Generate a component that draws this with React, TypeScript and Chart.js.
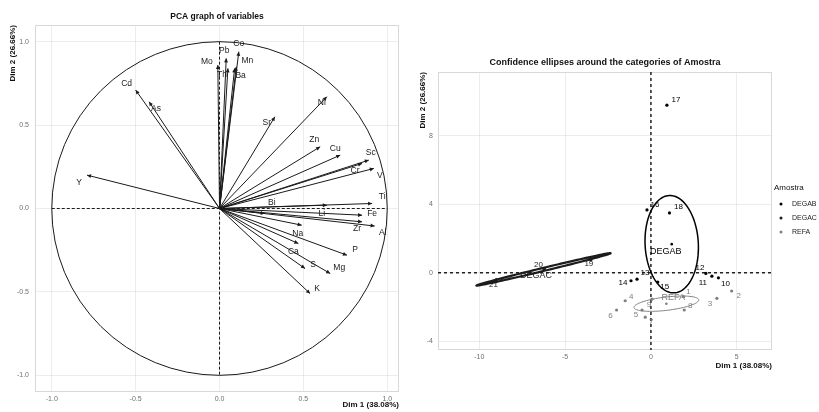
import React, { useEffect, useRef } from "react";
import { Chart, registerables } from "chart.js";

Chart.register(...registerables);
Chart.defaults.font.family = "'Liberation Sans', Arial, Helvetica, sans-serif";

// ---------- PCA variables (correlation circle) ----------
const VAR_NAMES = ["Cd", "As", "Y", "Mo", "Pb", "Th", "Co", "Mn", "Ba", "Ni", "Sr", "Zn", "Cu", "Sc", "Cr", "V", "Ti", "Bi", "Li", "Fe", "Zr", "Al", "Na", "Ca", "P", "S", "Mg", "K"];
const VAR_DIM1 = [-0.5, -0.42, -0.79, -0.01, 0.04, 0.05, 0.115, 0.1, 0.09, 0.64, 0.33, 0.6, 0.72, 0.89, 0.85, 0.92, 0.91, 0.27, 0.64, 0.85, 0.85, 0.925, 0.49, 0.47, 0.76, 0.51, 0.66, 0.54];
const VAR_DIM2 = [0.71, 0.64, 0.2, 0.86, 0.9, 0.84, 0.94, 0.85, 0.84, 0.67, 0.55, 0.37, 0.32, 0.29, 0.27, 0.24, 0.03, -0.03, 0.02, -0.04, -0.08, -0.105, -0.1, -0.21, -0.28, -0.36, -0.39, -0.51];
const VAR_TICKS = [-1, -0.5, 0, 0.5, 1];

// label placement next to each arrow tip (pixels)
const VAR_LABEL_NUDGE: Record<string, [number, number]> = {
  Cd: [-9, -6], As: [7, 7], Y: [-8, 8], Mo: [-11, -3], Pb: [-2, -8], Th: [-6, 6],
  Co: [0, -8], Mn: [11, -6], Ba: [6, 7], Ni: [-5, 6], Sr: [-8, 6], Zn: [-6, -7],
  Cu: [-5, -6], Sc: [2, -7], Cr: [-7, 7], V: [6, 7], Ti: [10, -7], Bi: [7, -11],
  Li: [-5, 8], Fe: [10, -2], Zr: [-5, 7], Al: [8, 7], Na: [-4, 8], Ca: [-5, 8],
  P: [8, -6], S: [8, -4], Mg: [9, -6], K: [7, -5],
};

// ---------- individuals and Amostra categories ----------
const SAMPLE_IDS = ["1", "2", "3", "4", "5", "6", "7", "8", "9", "10", "11", "12", "13", "14", "15", "16", "17", "18", "19", "20", "21"];
const SAMPLE_DIM1 = [1.9, 4.7, 3.84, -1.5, -0.52, -2.0, -0.33, 1.94, 0.06, 3.93, 3.55, 3.2, -0.81, -1.16, 0.4, -0.23, 0.93, 1.08, -3.5, -6.2, -9.0];
const SAMPLE_DIM2 = [-1.4, -1.07, -1.5, -1.64, -2.18, -2.18, -2.6, -2.18, -1.55, -0.3, -0.2, -0.04, -0.38, -0.47, -0.55, 3.67, 9.8, 3.5, 0.75, 0.25, -0.4];
const SAMPLE_GROUP = ["REFA", "REFA", "REFA", "REFA", "REFA", "REFA", "REFA", "REFA", "REFA", "DEGAB", "DEGAB", "DEGAB", "DEGAB", "DEGAB", "DEGAB", "DEGAB", "DEGAB", "DEGAB", "DEGAC", "DEGAC", "DEGAC"];
const SAMPLE_LABEL_NUDGE: [number, number][] = [
  [5, -5], [7, 5], [-7, 5], [6, -4], [-6, 5], [-6, 6], [6, 5], [6, -4], [-3, 6],
  [7, 6], [-9, 7], [-6, -6], [8, -6], [-8, 2], [7, 5], [8, -5], [9, -5], [9, -6],
  [-2, 4], [-6, -4], [-3, 5],
];

const GROUPS = ["DEGAB", "DEGAC", "REFA"];
const GROUP_COLORS = ["#000000", "#1c1c1c", "#808080"];
const ELLIPSE_RX = [1.55, 4.03, 1.9];
const ELLIPSE_RY = [2.85, 0.09, 0.39];
const ELLIPSE_ANGLE = [3, 13.6, 6.8];
const ELLIPSE_WIDTH = [1.5, 2.2, 1];
const GROUP_LABEL_NUDGE: [number, number][] = [[-6, 7], [-8, 6], [7, -6]];

const IND_X_TICKS = [-10, -5, 0, 5];
const IND_Y_TICKS = [-4, 0, 4, 8];

const FONT = "'Liberation Sans', Arial, Helvetica, sans-serif";
const GRID = "rgba(0,0,0,0.07)";

function titlePlugin(text: string, y: number, size: number) {
  return {
    id: "panelTitle",
    afterDraw(chart: any) {
      const { ctx, chartArea: a } = chart;
      ctx.save();
      ctx.font = `bold ${size}px ${FONT}`;
      ctx.fillStyle = "#111";
      ctx.textAlign = "center";
      ctx.textBaseline = "middle";
      ctx.fillText(text, (a.left + a.right) / 2, y);
      ctx.restore();
    },
  };
}

function axisScale(min: number, max: number, ticks: number[], horizontal: boolean, title: string, digits: number, fit: number, pad: number, titlePad: number) {
  return {
    type: "linear",
    min,
    max,
    afterBuildTicks(s: any) {
      s.ticks = ticks.map((v) => ({ value: v }));
    },
    afterFit(s: any) {
      if (horizontal) s.height = fit;
      else s.width = fit;
    },
    grid: { color: GRID, drawTicks: false },
    border: { display: false },
    ticks: {
      autoSkip: false,
      maxRotation: 0,
      padding: pad,
      color: "#707070",
      font: { size: 7, family: FONT },
      callback: (v: any) => Number(v).toFixed(digits),
    },
    title: {
      display: true,
      text: title,
      align: "end",
      color: "#111",
      font: { size: 8, weight: "bold", family: FONT },
      padding: horizontal ? { top: 0, bottom: titlePad } : { top: titlePad, bottom: 0 },
    },
  };
}

const panelBorder = {
  id: "panelBorder",
  beforeDatasetsDraw(chart: any) {
    const { ctx, chartArea: a } = chart;
    ctx.save();
    ctx.strokeStyle = "#d8d8d8";
    ctx.lineWidth = 1;
    ctx.strokeRect(a.left + 0.5, a.top + 0.5, a.width - 1, a.height - 1);
    ctx.restore();
  },
};

const correlationCircle = {
  id: "correlationCircle",
  beforeDatasetsDraw(chart: any) {
    const { ctx, scales } = chart;
    const x = scales.x, y = scales.y;
    const cx = x.getPixelForValue(0), cy = y.getPixelForValue(0);
    ctx.save();
    ctx.strokeStyle = "#1a1a1a";
    ctx.lineWidth = 1;
    ctx.beginPath();
    ctx.ellipse(cx, cy, x.getPixelForValue(1) - cx, cy - y.getPixelForValue(1), 0, 0, Math.PI * 2);
    ctx.stroke();
    ctx.setLineDash([3, 2]);
    ctx.beginPath();
    ctx.moveTo(x.getPixelForValue(-1), cy);
    ctx.lineTo(x.getPixelForValue(1), cy);
    ctx.moveTo(cx, y.getPixelForValue(1));
    ctx.lineTo(cx, y.getPixelForValue(-1));
    ctx.stroke();
    ctx.restore();
  },
  afterDatasetsDraw(chart: any) {
    const { ctx, scales } = chart;
    const x = scales.x, y = scales.y;
    const ox = x.getPixelForValue(0), oy = y.getPixelForValue(0);
    ctx.save();
    ctx.fillStyle = "#1a1a1a";
    ctx.font = `8.5px ${FONT}`;
    ctx.textAlign = "center";
    ctx.textBaseline = "middle";
    VAR_NAMES.forEach((name, i) => {
      const px = x.getPixelForValue(VAR_DIM1[i]);
      const py = y.getPixelForValue(VAR_DIM2[i]);
      const ang = Math.atan2(py - oy, px - ox);
      const len = 4.5, spread = 0.45;
      ctx.beginPath();
      ctx.moveTo(px, py);
      ctx.lineTo(px - len * Math.cos(ang - spread), py - len * Math.sin(ang - spread));
      ctx.lineTo(px - len * Math.cos(ang + spread), py - len * Math.sin(ang + spread));
      ctx.closePath();
      ctx.fill();
      const [dx, dy] = VAR_LABEL_NUDGE[name] || [6, -6];
      ctx.fillText(name, px + dx, py + dy);
    });
    ctx.restore();
  },
};

const categoryDecor = {
  id: "categoryDecor",
  beforeDatasetsDraw(chart: any) {
    const { ctx, chartArea: a, scales } = chart;
    const x = scales.x, y = scales.y;
    ctx.save();
    ctx.strokeStyle = "#222";
    ctx.lineWidth = 1.5;
    ctx.setLineDash([3, 3]);
    ctx.beginPath();
    const cx = x.getPixelForValue(0), cy = y.getPixelForValue(0);
    ctx.moveTo(a.left, cy);
    ctx.lineTo(a.right, cy);
    ctx.moveTo(cx, a.top);
    ctx.lineTo(cx, a.bottom);
    ctx.stroke();
    ctx.restore();
  },
  afterDatasetsDraw(chart: any) {
    const { ctx, scales } = chart;
    const x = scales.x, y = scales.y;
    ctx.save();
    GROUPS.forEach((g, gi) => {
      const idx = SAMPLE_GROUP.map((s, i) => (s === g ? i : -1)).filter((i) => i >= 0);
      const mx = idx.reduce((s, i) => s + SAMPLE_DIM1[i], 0) / idx.length;
      const my = idx.reduce((s, i) => s + SAMPLE_DIM2[i], 0) / idx.length;
      const th = (ELLIPSE_ANGLE[gi] * Math.PI) / 180;
      ctx.strokeStyle = GROUP_COLORS[gi];
      ctx.lineWidth = ELLIPSE_WIDTH[gi];
      ctx.beginPath();
      for (let k = 0; k <= 120; k++) {
        const t = (k / 120) * Math.PI * 2;
        const ex = ELLIPSE_RX[gi] * Math.cos(t), ey = ELLIPSE_RY[gi] * Math.sin(t);
        const vx = mx + ex * Math.cos(th) - ey * Math.sin(th);
        const vy = my + ex * Math.sin(th) + ey * Math.cos(th);
        const px = x.getPixelForValue(vx), py = y.getPixelForValue(vy);
        if (k === 0) ctx.moveTo(px, py);
        else ctx.lineTo(px, py);
      }
      ctx.stroke();
      // category mean
      const px = x.getPixelForValue(mx), py = y.getPixelForValue(my);
      ctx.fillStyle = GROUP_COLORS[gi];
      ctx.beginPath();
      ctx.arc(px, py, 1.3, 0, Math.PI * 2);
      ctx.fill();
      ctx.font = `9px ${FONT}`;
      ctx.textAlign = "center";
      ctx.textBaseline = "middle";
      ctx.fillText(g, px + GROUP_LABEL_NUDGE[gi][0], py + GROUP_LABEL_NUDGE[gi][1]);
    });
    // individual labels
    ctx.font = `8px ${FONT}`;
    ctx.textAlign = "center";
    ctx.textBaseline = "middle";
    SAMPLE_IDS.forEach((id, i) => {
      const gi = GROUPS.indexOf(SAMPLE_GROUP[i]);
      ctx.fillStyle = GROUP_COLORS[gi];
      const px = x.getPixelForValue(SAMPLE_DIM1[i]);
      const py = y.getPixelForValue(SAMPLE_DIM2[i]);
      ctx.fillText(id, px + SAMPLE_LABEL_NUDGE[i][0], py + SAMPLE_LABEL_NUDGE[i][1]);
    });
    ctx.restore();
  },
  afterDraw(chart: any) {
    const { ctx, chartArea: a } = chart;
    ctx.save();
    ctx.fillStyle = "#111";
    ctx.textBaseline = "middle";
    ctx.textAlign = "left";
    ctx.font = `8px ${FONT}`;
    ctx.fillText("Amostra", a.right + 2, 188);
    ctx.font = `7px ${FONT}`;
    GROUPS.forEach((g, gi) => {
      const yy = 204 + gi * 14;
      ctx.fillStyle = GROUP_COLORS[gi];
      ctx.beginPath();
      ctx.arc(a.right + 9, yy, 1.5, 0, Math.PI * 2);
      ctx.fill();
      ctx.fillStyle = "#222";
      ctx.fillText(g, a.right + 20, yy);
    });
    ctx.restore();
  },
};

export default function App() {
  const leftRef = useRef<HTMLCanvasElement>(null);
  const rightRef = useRef<HTMLCanvasElement>(null);

  useEffect(() => {
    const varDatasets = VAR_NAMES.map((name, i) => ({
      label: name,
      data: [
        { x: 0, y: 0 },
        { x: VAR_DIM1[i], y: VAR_DIM2[i] },
      ],
      showLine: true,
      borderColor: "#1a1a1a",
      borderWidth: 1,
      pointRadius: 0,
    }));

    const left = new Chart(leftRef.current as HTMLCanvasElement, {
      type: "scatter",
      data: { datasets: varDatasets as any },
      options: {
        responsive: false,
        animation: false,
        layout: { padding: { top: 25, right: 11, left: 0, bottom: 0 } },
        plugins: { legend: { display: false }, tooltip: { enabled: false } },
        scales: {
          x: axisScale(-1.1, 1.07, VAR_TICKS, true, "Dim 1 (38.08%)", 1, 20, 3, 2) as any,
          y: axisScale(-1.1, 1.1, VAR_TICKS, false, "Dim 2 (26.66%)", 1, 35, 6, 8) as any,
        },
      },
      plugins: [panelBorder, correlationCircle, titlePlugin("PCA graph of variables", 17, 8.5)],
    });

    const indDatasets = GROUPS.map((g, gi) => ({
      label: g,
      data: SAMPLE_IDS.map((_, i) => i)
        .filter((i) => SAMPLE_GROUP[i] === g)
        .map((i) => ({ x: SAMPLE_DIM1[i], y: SAMPLE_DIM2[i] })),
      pointRadius: 1.6,
      pointBackgroundColor: GROUP_COLORS[gi],
      pointBorderWidth: 0,
      showLine: false,
    }));

    const right = new Chart(rightRef.current as HTMLCanvasElement, {
      type: "scatter",
      data: { datasets: indDatasets as any },
      options: {
        responsive: false,
        animation: false,
        layout: { padding: { top: 72, right: 47, left: 0, bottom: 40 } },
        plugins: { legend: { display: false }, tooltip: { enabled: false } },
        scales: {
          x: axisScale(-12.4, 7.05, IND_X_TICKS, true, "Dim 1 (38.08%)", 0, 22, 3, 1) as any,
          y: axisScale(-4.52, 11.74, IND_Y_TICKS, false, "Dim 2 (26.66%)", 0, 28, 5, 8) as any,
        },
      },
      plugins: [panelBorder, categoryDecor, titlePlugin("Confidence ellipses around the categories of Amostra", 63, 9)],
    });

    return () => {
      left.destroy();
      right.destroy();
    };
  }, []);

  return (
    <div style={{ position: "absolute", left: 0, top: 0, width: 819, height: 412, background: "#fff" }}>
      <canvas ref={leftRef} width={410} height={412} style={{ position: "absolute", left: 0, top: 0, width: 410, height: 412 }} />
      <canvas ref={rightRef} width={409} height={412} style={{ position: "absolute", left: 410, top: 0, width: 409, height: 412 }} />
    </div>
  );
}
